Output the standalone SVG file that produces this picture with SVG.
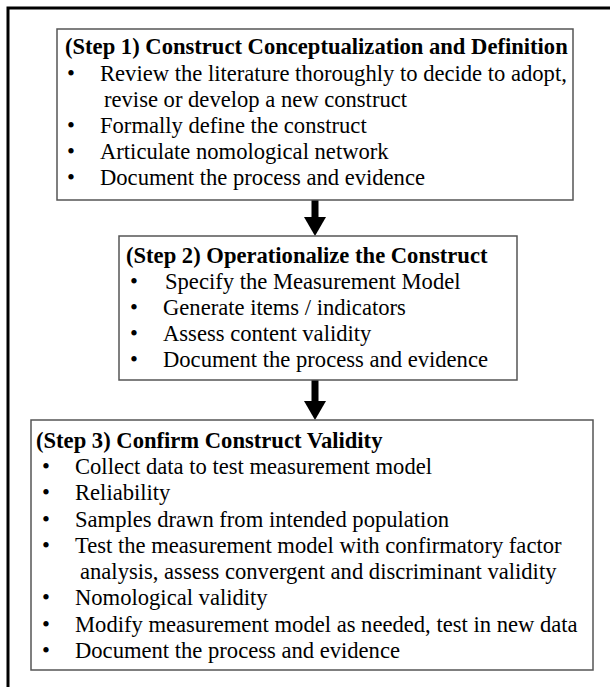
<svg xmlns="http://www.w3.org/2000/svg" width="610" height="687" viewBox="0 0 610 687">
  <style>
    .frame { fill: none; stroke: #000; stroke-width: 3; }
    .box { fill: #fff; stroke: #555; stroke-width: 1.5; }
    .title { font-family: "Liberation Serif", "Times New Roman", serif; font-size: 22.6px; font-weight: bold; fill: #000; }
    .txt { font-family: "Liberation Serif", "Times New Roman", serif; font-size: 22.6px; fill: #000; }
    .arrow { fill: #000; }
  </style>
  <rect width="610" height="687" fill="#fff"/>
  <!-- outer frame -->
  <path class="frame" d="M8,687 V8 H610"/>

  <!-- connectors -->
  <g id="connectors">
    <g id="arrow-1-2">
      <rect class="arrow" x="311.5" y="200" width="7" height="18"/>
      <polygon class="arrow" points="304,217 326,217 315,236"/>
    </g>
    <g id="arrow-2-3">
      <rect class="arrow" x="311.5" y="380" width="7" height="22"/>
      <polygon class="arrow" points="304,401 326,401 315,420"/>
    </g>
  </g>

  <!-- Step 1 -->
  <g id="step1">
    <rect class="box" x="57" y="29" width="516" height="171"/>
    <text class="title" x="65" y="54">(Step 1) Construct Conceptualization and Definition</text>
    <text class="txt" x="67" y="81">•</text>
    <text class="txt" x="100" y="81">Review the literature thoroughly to decide to adopt,</text>
    <text class="txt" x="104" y="107">revise or develop a new construct</text>
    <text class="txt" x="67" y="133">•</text>
    <text class="txt" x="100" y="133">Formally define the construct</text>
    <text class="txt" x="67" y="159">•</text>
    <text class="txt" x="100" y="159">Articulate nomological network</text>
    <text class="txt" x="67" y="185">•</text>
    <text class="txt" x="100" y="185">Document the process and evidence</text>
  </g>

  <!-- Step 2 -->
  <g id="step2">
    <rect class="box" x="119" y="236" width="398" height="144"/>
    <text class="title" x="126" y="263">(Step 2) Operationalize the Construct</text>
    <text class="txt" x="130" y="289">•</text>
    <text class="txt" x="165" y="289">Specify the Measurement Model</text>
    <text class="txt" x="130" y="315">•</text>
    <text class="txt" x="163" y="315">Generate items / indicators</text>
    <text class="txt" x="130" y="341">•</text>
    <text class="txt" x="163" y="341">Assess content validity</text>
    <text class="txt" x="130" y="367">•</text>
    <text class="txt" x="163" y="367">Document the process and evidence</text>
  </g>

  <!-- Step 3 -->
  <g id="step3">
    <rect class="box" x="31" y="420" width="562" height="250"/>
    <text class="title" x="36" y="448">(Step 3) Confirm Construct Validity</text>
    <text class="txt" x="42" y="474">•</text>
    <text class="txt" x="75" y="474">Collect data to test measurement model</text>
    <text class="txt" x="42" y="500">•</text>
    <text class="txt" x="75" y="500">Reliability</text>
    <text class="txt" x="42" y="527">•</text>
    <text class="txt" x="75" y="527">Samples drawn from intended population</text>
    <text class="txt" x="42" y="553">•</text>
    <text class="txt" x="75" y="553">Test the measurement model with confirmatory factor</text>
    <text class="txt" x="80" y="579">analysis, assess convergent and discriminant validity</text>
    <text class="txt" x="42" y="605">•</text>
    <text class="txt" x="75" y="605">Nomological validity</text>
    <text class="txt" x="42" y="632">•</text>
    <text class="txt" x="75" y="632">Modify measurement model as needed, test in new data</text>
    <text class="txt" x="42" y="658">•</text>
    <text class="txt" x="75" y="658">Document the process and evidence</text>
  </g>
</svg>
